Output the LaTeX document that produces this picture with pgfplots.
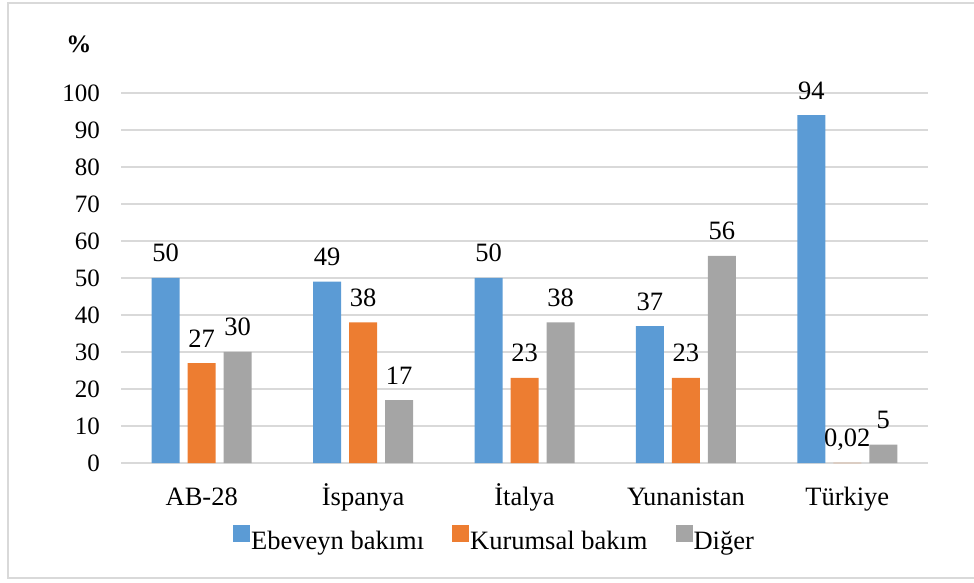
\documentclass[border=0pt]{standalone}
\usepackage{pgfplots}
\pgfplotsset{compat=1.18}
\usepackage{fontspec}
\setmainfont{Liberation Serif}
\definecolor{cblue}{HTML}{5B9BD5}
\definecolor{corange}{HTML}{ED7D31}
\definecolor{cgray}{HTML}{A5A5A5}
\definecolor{gridc}{HTML}{D9D9D9}
\definecolor{framec}{HTML}{D9D9D9}
\newcommand{\chartfont}{\fontsize{25}{30}\selectfont}
\newcommand{\bigfont}{\fontsize{26.5}{31}\selectfont}
\begin{document}
\begin{tikzpicture}
\useasboundingbox (-121pt,-120pt) rectangle (853pt,463pt);
\draw[color=framec, line width=2pt] (856pt,459.5pt) -- (-113pt,459.5pt) -- (-113pt,-115.5pt) -- (856pt,-115.5pt);
\node[font=\fontsize{25}{30}\selectfont\bfseries] at (-42pt,419pt) {\%};
\begin{axis}[
  at={(0pt,0pt)}, anchor=south west,
  scale only axis, width=807pt, height=370pt,
  ybar, bar width=28pt,
  enlargelimits=false,
  xmin=-0.5, xmax=4.5, ymin=0, ymax=100,
  xtick={0,1,2,3,4},
  xticklabels={AB-28, İspanya, İtalya, Yunanistan, Türkiye},
  ytick={0,10,...,100},
  ymajorgrids, grid style={color=gridc, line width=1.2pt},
  axis x line=bottom, axis y line=left,
  axis line style={draw=none, -},
  tick style={draw=none}, major tick length=0pt,
  yticklabel style={font=\chartfont},
  xticklabel style={font=\bigfont},
  /pgf/number format/assume math mode=true,
  yticklabel style={anchor=east, inner sep=0pt, xshift=-21pt},
  xticklabel style={anchor=base, inner sep=0pt, yshift=-42pt},
  point meta=explicit symbolic,
  nodes near coords,
  nodes near coords style={anchor=base, inner sep=0pt, yshift=16pt, font=\bigfont, text=black},
  legend columns=3,
  legend style={draw=none, fill=none, at={(0.1388,-0.205)}, anchor=west, inner sep=0pt,
    font=\bigfont, nodes={inner sep=1pt},
    /tikz/every even column/.append style={column sep=27pt}},
  legend image code/.code={\fill[#1] (0pt,-1pt) rectangle (17pt,16pt);},
]
\addplot[fill=cblue, draw=none, bar shift=-36pt] table[meta=lab] {
x y lab
0 50 50
1 49 49
2 50 50
3 37 37
4 94 94
};
\addplot[fill=corange, draw=none, bar shift=0pt] table[meta=lab] {
x y lab
0 27 27
1 38 38
2 23 23
3 23 23
4 0.02 0,02
};
\addplot[fill=cgray, draw=none, bar shift=36pt] table[meta=lab] {
x y lab
0 30 30
1 17 17
2 38 38
3 56 56
4 5 5
};
\legend{Ebeveyn bakımı, Kurumsal bakım, Diğer}
\end{axis}
\end{tikzpicture}
\end{document}
